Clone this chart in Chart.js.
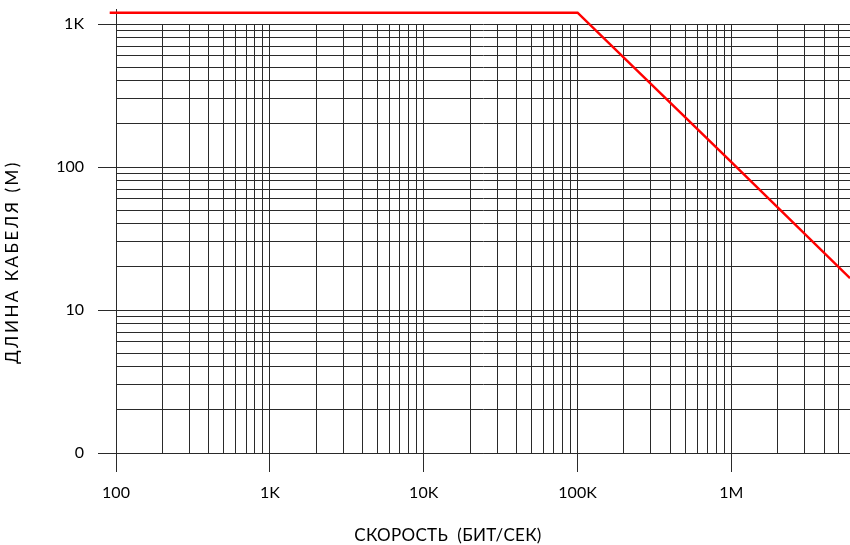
<!DOCTYPE html>
<html><head><meta charset="utf-8">
<script src="https://cdn.jsdelivr.net/npm/chart.js@4/dist/chart.umd.min.js"></script>
<style>html,body{margin:0;padding:0;background:#fff;}canvas{display:block}</style>
</head><body>
<canvas id="c" width="850" height="545"></canvas>
<script>
// Data
const speedBps = [91, 100000, 1000000, 5900000];
const cableLengthM = [1200, 1200, 108, 16.7];
// Tick labels
const xTickValues = [100, 1000, 10000, 100000, 1000000];
const xTickLabels = ['100', '1K', '10K', '100K', '1M'];
const yTickValues = [1, 10, 100, 1000];
const yTickLabels = ['0', '10', '100', '1K'];
const xMin = 100, xMax = 5900000, yMin = 1, yMax = 1000;
const xTitle = 'СКОРОСТЬ  (БИТ/СЕК)';
const yTitle = 'ДЛИНА КАБЕЛЯ (М)';

const GRID = '#2a2a2a';
const FONT = 'Lato';

function logTicks(min, max) {
  const out = [];
  for (let e = Math.floor(Math.log10(min)); e <= Math.ceil(Math.log10(max)); e++) {
    for (let m = 1; m <= 9; m++) {
      const v = m * Math.pow(10, e);
      if (v >= min * 0.9999 && v <= max * 1.0001) out.push({ value: v, major: m === 1 });
    }
  }
  return out;
}
function labelFor(values, labels, v) {
  for (let i = 0; i < values.length; i++) {
    if (Math.abs(values[i] - v) / values[i] < 1e-6) return labels[i];
  }
  return '';
}

const decor = {
  id: 'decor',
  beforeDatasetsDraw(chart) {
    const c = chart.ctx, a = chart.chartArea;
    c.save();
    c.strokeStyle = GRID; c.lineWidth = 1;
    const x = Math.round(a.left) + 0.5;
    c.beginPath(); c.moveTo(x, a.top); c.lineTo(x, a.top - 15); c.stroke();
    c.restore();
  },
  afterDraw(chart) {
    const c = chart.ctx;
    c.save();
    c.fillStyle = '#000';
    c.font = '17px ' + FONT;
    c.textAlign = 'center'; c.textBaseline = 'middle';
    c.letterSpacing = '0.3px';
    c.fillText(xTitle, 448, 536);
    c.translate(13, 262);
    c.rotate(-Math.PI / 2);
    c.letterSpacing = '2.5px';
    c.fillText(yTitle, 0, 0);
    c.restore();
  }
};

new Chart(document.getElementById('c'), {
  type: 'line',
  data: {
    datasets: [{
      data: speedBps.map((x, i) => ({ x: x, y: cableLengthM[i] })),
      borderColor: '#ff0000',
      borderWidth: 2.5,
      pointRadius: 0,
      tension: 0,
      fill: false,
      clip: false
    }]
  },
  options: {
    responsive: false,
    animation: false,
    layout: { padding: { top: 24, right: 0, left: 0, bottom: 0 } },
    plugins: { legend: { display: false }, tooltip: { enabled: false } },
    scales: {
      x: {
        type: 'logarithmic', min: xMin, max: xMax,
        afterBuildTicks: s => { s.ticks = logTicks(xMin, xMax); },
        afterFit: s => { s.height = 92; },
        ticks: {
          autoSkip: false, maxRotation: 0, minRotation: 0, padding: 11, color: '#000',
          font: { family: FONT, size: 16 },
          callback: v => labelFor(xTickValues, xTickLabels, v)
        },
        grid: {
          color: GRID, lineWidth: 1, tickLength: 19,
          tickColor: c => (c.tick && c.tick.major) ? GRID : 'rgba(0,0,0,0)'
        },
        border: { display: true, color: GRID }
      },
      y: {
        type: 'logarithmic', min: yMin, max: yMax,
        afterBuildTicks: s => { s.ticks = logTicks(yMin, yMax); },
        afterFit: s => { s.width = 116; },
        ticks: {
          autoSkip: false, padding: 14, color: '#000',
          font: { family: FONT, size: 16 },
          callback: v => labelFor(yTickValues, yTickLabels, v)
        },
        grid: {
          color: GRID, lineWidth: 1, tickLength: 18,
          tickColor: c => (c.tick && c.tick.major) ? GRID : 'rgba(0,0,0,0)'
        },
        border: { display: true, color: GRID }
      }
    }
  },
  plugins: [decor]
});
</script>
</body></html>
